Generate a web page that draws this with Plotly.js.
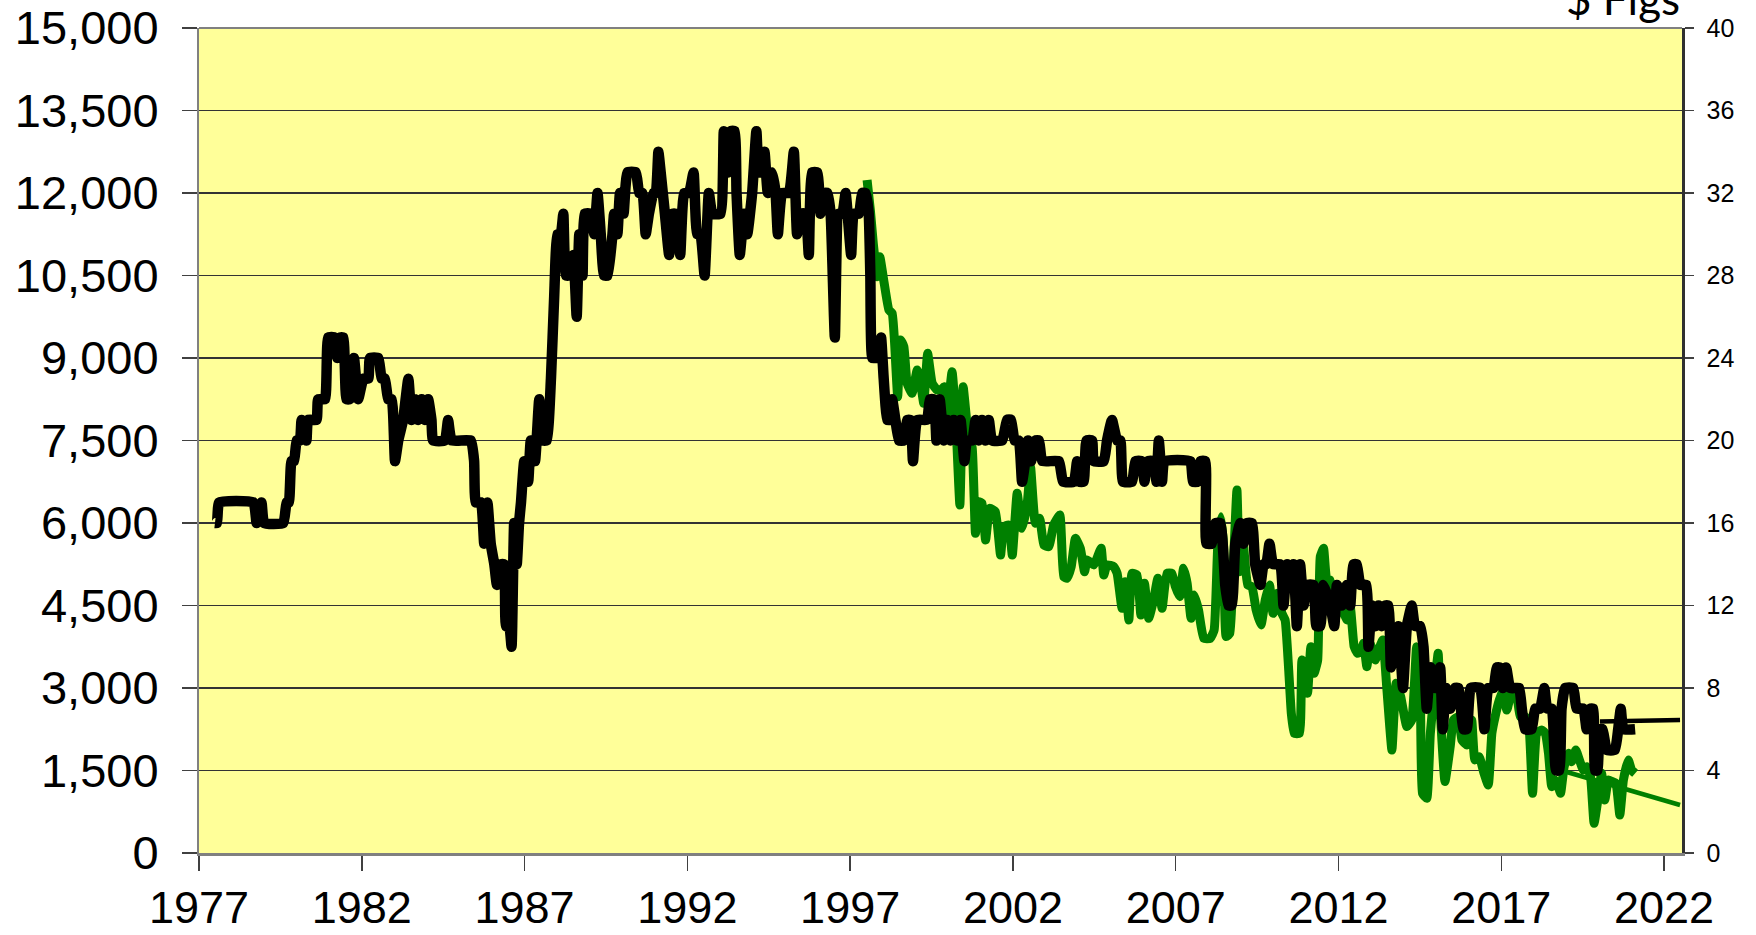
<!DOCTYPE html>
<html>
<head>
<meta charset="utf-8">
<script src="https://cdn.plot.ly/plotly-3.0.1.min.js"></script>
<style>
html,body{margin:0;padding:0;background:#ffffff;}
#chart{width:1756px;height:935px;}
</style>
</head>
<body>
<div id="chart"></div>
<script>
// ---- Data ----
// Black series (right-axis units, integer steps)
const blackYears = [1977.49,1977.55,1977.62,1978.67,1978.77,1978.92,1979.00,1979.59,1979.69,1979.76,1979.84,1979.92,1980.00,1980.10,1980.15,1980.30,1980.35,1980.61,1980.66,1980.87,1980.97,1981.17,1981.25,1981.33,1981.43,1981.53,1981.63,1981.76,1981.89,1982.05,1982.20,1982.25,1982.51,1982.61,1982.71,1982.81,1982.92,1983.02,1983.12,1983.27,1983.43,1983.53,1983.63,1983.73,1983.84,1983.94,1984.04,1984.14,1984.19,1984.55,1984.65,1984.76,1985.35,1985.45,1985.50,1985.66,1985.76,1985.86,1985.96,1986.07,1986.15,1986.27,1986.37,1986.43,1986.53,1986.60,1986.68,1986.76,1986.83,1986.89,1986.99,1987.11,1987.19,1987.32,1987.45,1987.55,1987.68,1987.81,1987.91,1988.01,1988.11,1988.19,1988.27,1988.37,1988.50,1988.60,1988.68,1988.78,1988.85,1989.03,1989.14,1989.24,1989.34,1989.44,1989.55,1989.70,1989.75,1989.85,1989.93,1990.04,1990.16,1990.42,1990.52,1990.62,1990.72,1990.82,1990.96,1991.03,1991.11,1991.18,1991.31,1991.44,1991.54,1991.64,1991.78,1991.90,1992.05,1992.19,1992.30,1992.40,1992.53,1992.66,1992.77,1993.02,1993.12,1993.25,1993.33,1993.45,1993.51,1993.61,1993.74,1993.84,1993.99,1994.12,1994.20,1994.30,1994.37,1994.47,1994.61,1994.71,1994.78,1994.91,1995.12,1995.27,1995.37,1995.48,1995.63,1995.73,1995.83,1995.99,1996.09,1996.19,1996.30,1996.40,1996.53,1996.65,1996.76,1996.86,1997.03,1997.11,1997.27,1997.37,1997.47,1997.57,1997.62,1997.68,1997.78,1997.88,1997.95,1998.03,1998.14,1998.22,1998.29,1998.39,1998.50,1998.65,1998.75,1998.85,1998.93,1999.06,1999.36,1999.45,1999.57,1999.65,1999.75,1999.88,1999.98,2000.08,2000.18,2000.28,2000.39,2000.51,2000.59,2000.75,2000.85,2000.95,2001.05,2001.16,2001.26,2001.36,2001.67,2001.82,2001.94,2002.05,2002.18,2002.28,2002.38,2002.46,2002.56,2002.69,2002.80,2002.90,2003.41,2003.54,2003.87,2003.97,2004.05,2004.17,2004.26,2004.43,2004.48,2004.79,2004.89,2005.04,2005.20,2005.30,2005.38,2005.66,2005.76,2005.96,2006.04,2006.14,2006.32,2006.41,2006.48,2006.58,2006.65,2007.45,2007.53,2007.67,2007.76,2007.91,2007.94,2008.11,2008.22,2008.37,2008.52,2008.62,2008.72,2008.83,2008.98,2009.08,2009.18,2009.34,2009.44,2009.60,2009.70,2009.78,2009.88,2009.99,2010.21,2010.31,2010.42,2010.52,2010.62,2010.72,2010.82,2010.93,2011.03,2011.23,2011.32,2011.44,2011.54,2011.75,2011.87,2011.95,2012.10,2012.26,2012.36,2012.46,2012.56,2012.67,2012.85,2012.92,2013.02,2013.13,2013.23,2013.33,2013.43,2013.53,2013.61,2013.71,2013.84,2013.98,2014.10,2014.25,2014.35,2014.51,2014.61,2014.71,2014.82,2014.97,2015.12,2015.20,2015.30,2015.43,2015.58,2015.68,2015.84,2015.94,2016.06,2016.35,2016.48,2016.60,2016.76,2016.86,2016.96,2017.04,2017.15,2017.27,2017.42,2017.55,2017.63,2017.73,2017.93,2018.04,2018.19,2018.32,2018.41,2018.55,2018.68,2018.78,2018.85,2018.96,2019.21,2019.31,2019.52,2019.62,2019.74,2019.82,2019.88,2019.95,2020.03,2020.11,2020.24,2020.49,2020.59,2020.67,2020.75,2021.11];
const blackVals = [16,16,17,17,16,17,16,16,17,17,19,19,20,20,21,20,21,21,22,22,25,25,24,25,25,22,22,24,22,23,23,24,24,23,23,22,22,19,20,21,23,21,22,21,22,21,22,21,20,20,21,20,20,19,17,17,15,17,15,14,13,14,14,11,11,10,16,14,16,17,19,18,20,19,22,20,20,23,27,30,30,31,28,28,29,26,30,28,31,31,30,32,30,28,28,30,31,30,32,31,33,33,32,32,30,31,32,32,34,33,31,29,31,31,29,32,32,33,30,30,28,32,31,31,35,33,35,35,32,29,31,30,32,35,33,33,34,32,33,32,30,32,32,34,30,31,31,29,33,33,31,32,32,31,25,31,31,32,29,31,31,32,32,31,28,24,24,24,25,23,21,21,22,21,20,20,21,21,19,21,21,22,22,20,22,20,21,20,21,20,21,19,20,20,21,20,21,20,21,20,20,21,21,20,20,18,19,20,19,20,20,19,19,18,18,19,18,18,20,20,19,19,20,21,20,20,18,18,19,19,18,19,19,18,20,18,19,19,18,18,19,19,15,15,16,16,13,12,12,15,16,15,16,16,14,13,14,14,15,14,14,12,14,13,14,11,14,12,13,13,11,11,13,12,11,13,12,13,12,14,14,13,13,10,12,11,12,11,12,12,9,10,11,8,11,12,11,11,10,7,9,8,9,6,8,7,8,8,6,6,8,8,6,8,8,9,9,8,9,8,8,8,7,6,6,7,7,8,7,7,4,4,7,8,8,7,7,6,7,7,4,4,6,6,5,5,6,7,6,6];

// Green series (left-axis units)
const greenYears = [1997.52,1997.62,1997.71,1997.83,1997.91,1998.03,1998.19,1998.29,1998.36,1998.46,1998.55,1998.65,1998.75,1998.90,1999.06,1999.18,1999.26,1999.38,1999.52,1999.67,1999.80,1999.88,1999.98,2000.13,2000.24,2000.37,2000.47,2000.59,2000.75,2000.85,2000.95,2001.05,2001.16,2001.29,2001.46,2001.62,2001.72,2001.87,2001.98,2002.13,2002.28,2002.44,2002.54,2002.69,2002.82,2002.95,2003.10,2003.25,2003.44,2003.56,2003.66,2003.79,2003.92,2004.07,2004.20,2004.28,2004.48,2004.58,2004.71,2004.79,2004.89,2005.10,2005.20,2005.35,2005.45,2005.56,2005.66,2005.81,2005.93,2006.04,2006.17,2006.32,2006.45,2006.58,2006.73,2006.88,2006.99,2007.12,2007.24,2007.35,2007.47,2007.57,2007.70,2007.86,2008.06,2008.18,2008.29,2008.39,2008.47,2008.55,2008.66,2008.76,2008.88,2008.96,2009.08,2009.21,2009.34,2009.47,2009.62,2009.75,2009.88,2009.99,2010.13,2010.26,2010.36,2010.47,2010.55,2010.64,2010.80,2010.88,2010.98,2011.05,2011.15,2011.25,2011.36,2011.44,2011.54,2011.64,2011.74,2011.87,2012.00,2012.13,2012.26,2012.36,2012.48,2012.58,2012.68,2012.77,2012.87,2012.97,2013.13,2013.23,2013.36,2013.48,2013.64,2013.77,2013.91,2014.10,2014.25,2014.40,2014.51,2014.58,2014.71,2014.82,2014.97,2015.06,2015.14,2015.27,2015.43,2015.53,2015.68,2015.79,2015.94,2016.09,2016.19,2016.32,2016.47,2016.60,2016.71,2016.81,2016.94,2017.06,2017.17,2017.32,2017.45,2017.58,2017.73,2017.83,2017.96,2018.09,2018.24,2018.35,2018.45,2018.55,2018.65,2018.75,2018.82,2018.93,2019.06,2019.16,2019.29,2019.40,2019.52,2019.62,2019.74,2019.85,2019.95,2020.08,2020.18,2020.29,2020.40,2020.52,2020.64,2020.75,2020.90,2021.00,2021.11];
const greenVals = [12236,11691,11085,10479,10843,10419,9873,9812,9328,8297,9328,9206,8540,8358,8782,8479,8176,9085,8540,8418,8418,8479,7994,8752,7934,6327,8479,7812,7357,5812,6388,6357,5691,6267,6206,5418,5933,5963,5418,6539,5903,6357,7024,5994,6085,5600,5570,5963,6146,5024,4994,5206,5721,5540,5115,5328,5237,5358,5540,5055,5237,5206,5085,4449,4934,4237,5085,5055,4327,4903,4267,4600,4994,4449,5085,5085,4843,4661,5176,4903,4267,4691,4418,3903,3903,4055,5570,6115,5570,3934,3994,5085,6600,5115,5570,4873,4843,4418,4146,4600,4873,4358,4722,4358,4237,3328,2540,2176,2176,3509,3388,2904,3752,3267,3509,5388,5540,4964,4964,4146,4540,4418,4237,4479,3752,3631,3660,3812,3388,3812,3509,3691,3873,3024,1873,3085,2843,2298,2418,3752,3024,1085,994,2176,3146,3631,2418,1300,1934,2418,2479,2055,1964,2418,1691,1750,1448,1236,2176,2479,2782,2964,2600,2934,2964,2479,2479,2418,1085,2176,2236,2176,1812,1206,1327,1206,1085,1570,1812,1661,1873,1691,1509,1570,1388,539,903,1448,963,1327,1300,1267,691,1327,1691,1509,1448];

// Trend lines
const blackTrendYears = [2020.03, 2022.49];
const blackTrendVals = [6.37, 6.45];
const greenTrendYears = [2018.80, 2022.49];
const greenTrendVals = [1509, 873];

// Axis ticks
const xTickVals = [1977,1982,1987,1992,1997,2002,2007,2012,2017,2022];
const leftTickVals = [0,1500,3000,4500,6000,7500,9000,10500,12000,13500,15000];
const rightTickVals = [0,4,8,12,16,20,24,28,32,36,40];
const cornerLabel = "$ Figs";

// ---- Chart ----
const traces = [
  {x: greenYears, y: greenVals, type: 'scatter', mode: 'lines', yaxis: 'y',
   line: {color: '#008000', width: 9, shape: 'spline', smoothing: 0.4}, hoverinfo: 'skip'},
  {x: greenTrendYears, y: greenTrendVals, type: 'scatter', mode: 'lines', yaxis: 'y',
   line: {color: '#008000', width: 4.5}, hoverinfo: 'skip'},
  {x: blackYears, y: blackVals, type: 'scatter', mode: 'lines', yaxis: 'y2',
   line: {color: '#000000', width: 10.5, shape: 'spline', smoothing: 0.4}, hoverinfo: 'skip'},
  {x: blackTrendYears, y: blackTrendVals, type: 'scatter', mode: 'lines', yaxis: 'y2',
   line: {color: '#000000', width: 4.5}, hoverinfo: 'skip'}
];

const layout = {
  width: 1756, height: 935,
  margin: {l: 199, r: 74, t: 28, b: 82, pad: 0},
  paper_bgcolor: '#ffffff',
  plot_bgcolor: '#FFFF99',
  showlegend: false,
  font: {family: '"Liberation Sans", Arial, sans-serif', color: '#000000'},
  xaxis: {
    range: [1977, 2022.55],
    tickvals: xTickVals,
    ticktext: xTickVals.map(String),
    ticks: 'outside', ticklen: 15, tickwidth: 1.5, tickcolor: '#404040',
    tickfont: {size: 45, family: '"Liberation Sans", Arial, sans-serif', color: '#000000'},
    ticklabelstandoff: -2,
    showgrid: false, zeroline: false,
    showline: true, linecolor: '#808080', linewidth: 3,
    fixedrange: true
  },
  yaxis: {
    range: [0, 15000],
    tickvals: leftTickVals,
    tickformat: ',d',
    ticks: 'outside', ticklen: 15, tickwidth: 1.5, tickcolor: '#404040',
    tickfont: {size: 47, family: '"Liberation Sans", Arial, sans-serif', color: '#000000'},
    ticklabelstandoff: 14,
    showgrid: true, gridcolor: '#333333', gridwidth: 1.5,
    zeroline: false,
    showline: true, linecolor: '#808080', linewidth: 2,
    fixedrange: true
  },
  yaxis2: {
    range: [0, 40],
    tickvals: rightTickVals,
    overlaying: 'y', side: 'right',
    ticks: 'outside', ticklen: 9, tickwidth: 1.5, tickcolor: '#404040',
    tickfont: {size: 25, family: '"Liberation Sans", Arial, sans-serif', color: '#000000'},
    ticklabelstandoff: 8,
    showgrid: false, zeroline: false,
    showline: true, linecolor: '#303030', linewidth: 2.5,
    fixedrange: true
  },
  shapes: [
    {type: 'line', xref: 'paper', yref: 'paper', x0: 0, x1: 1, y0: 1, y1: 1,
     line: {color: '#808080', width: 2}}
  ],
  annotations: [
    {text: cornerLabel, xref: 'paper', yref: 'paper', x: 1.0, y: 1.0025,
     xanchor: 'right', yanchor: 'bottom', showarrow: false,
     font: {size: 44, family: 'Lato, "Open Sans", sans-serif', color: '#000000'}}
  ]
};

Plotly.newPlot('chart', traces, layout, {staticPlot: true, displayModeBar: false});
</script>
</body>
</html>
